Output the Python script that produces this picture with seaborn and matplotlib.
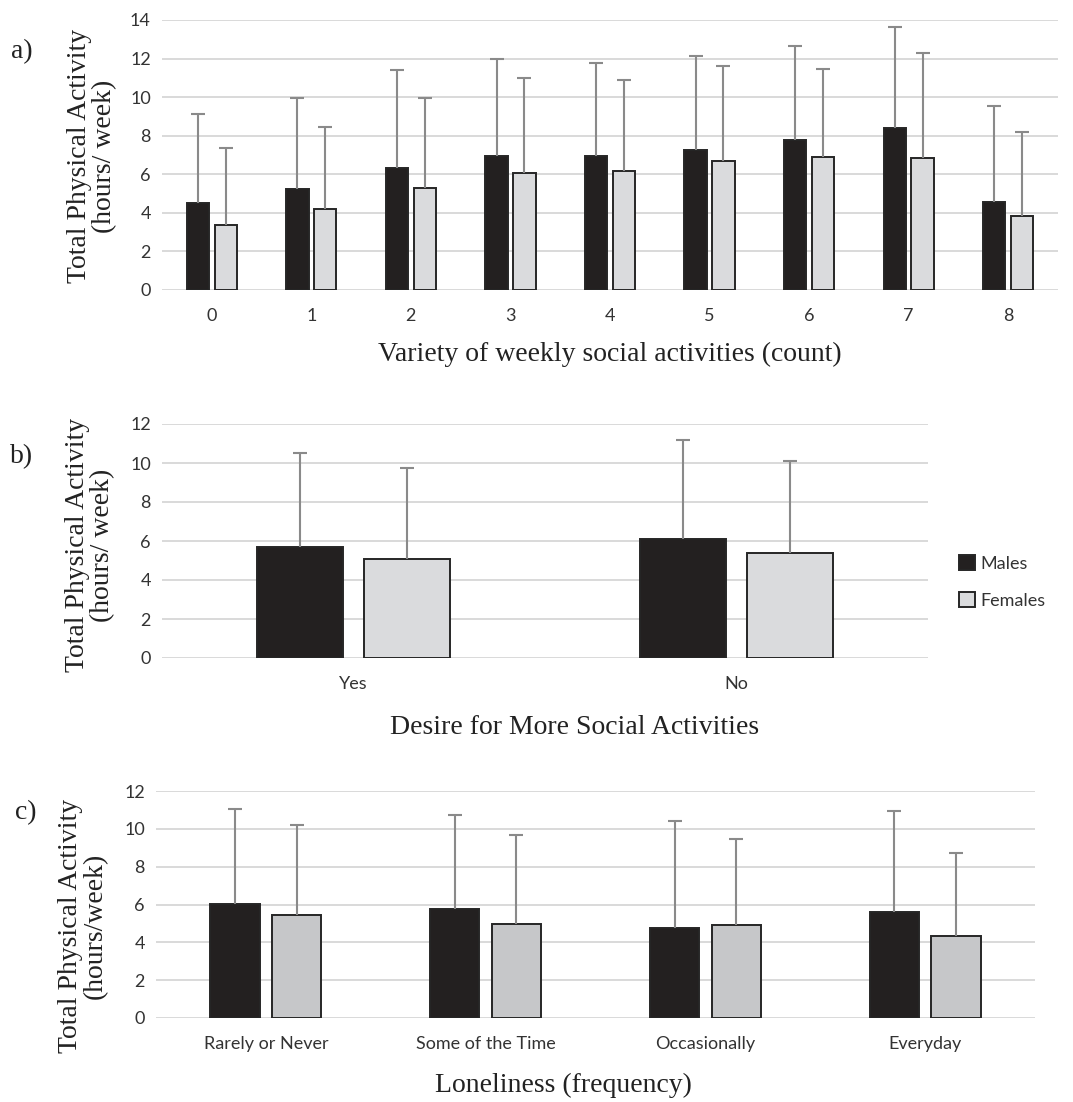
import matplotlib
matplotlib.use("Agg")
import matplotlib.pyplot as plt
import numpy as np
import pandas as pd
import seaborn as sns

# panel a: variety of weekly social activities
a_cats = ['0', '1', '2', '3', '4', '5', '6', '7', '8']
a_male = [4.52, 5.25, 6.32, 6.93, 6.96, 7.27, 7.77, 8.39, 4.54]
a_male_sd = [4.61, 4.70, 5.08, 5.04, 4.82, 4.87, 4.89, 5.25, 4.98]
a_female = [3.38, 4.21, 5.30, 6.08, 6.17, 6.68, 6.91, 6.84, 3.85]
a_female_sd = [3.98, 4.25, 4.68, 4.89, 4.71, 4.93, 4.56, 5.44, 4.34]

# panel b: desire for more social activities
b_cats = ['Yes', 'No']
b_male = [5.70, 6.11]
b_male_sd = [4.83, 5.07]
b_female = [5.07, 5.36]
b_female_sd = [4.67, 4.76]

# panel c: loneliness
c_cats = ['Rarely or Never', 'Some of the Time', 'Occasionally', 'Everyday']
c_male = [6.03, 5.76, 4.78, 5.62]
c_male_sd = [5.02, 4.99, 5.64, 5.34]
c_female = [5.43, 4.99, 4.92, 4.34]
c_female_sd = [4.78, 4.67, 4.55, 4.39]

sexes = ['Males', 'Females']

sns.set_theme(style='white')
plt.rcParams['font.family'] = ['Lato', 'DejaVu Sans']

W, H = 1073, 1102
fig = plt.figure(figsize=(W / 100, H / 100), dpi=100)


def px_axes(left, right, top, bottom):
    return fig.add_axes([left / W, 1 - bottom / H, (right - left) / W, (bottom - top) / H])


def to_long(cats, male, female):
    return pd.DataFrame({
        'cat': cats * 2,
        'mean': male + female,
        'sex': ['Males'] * len(cats) + ['Females'] * len(cats),
    })


def draw_panel(ax, cats, male, male_sd, female, female_sd, female_color, ymax):
    df = to_long(cats, male, female)
    sns.barplot(data=df, x='cat', y='mean', hue='sex', hue_order=sexes,
                palette={'Males': '#231f20', 'Females': female_color},
                width=0.56, gap=0.2, errorbar=None, edgecolor='#262626',
                linewidth=1.4, legend=False, ax=ax)
    for cont, sd in zip(ax.containers, [male_sd, female_sd]):
        xs = [b.get_x() + b.get_width() / 2 for b in cont]
        ys = [b.get_height() for b in cont]
        eb = ax.errorbar(xs, ys, yerr=[np.zeros(len(sd)), sd], fmt='none',
                         ecolor='#8a8a8a', elinewidth=1.5, capsize=5, capthick=1.5, zorder=1)
        # only the upper cap, like the original
        eb[1][0].remove()
    ax.set_xlim(-0.5, len(cats) - 0.5)
    ax.set_ylim(0, ymax)
    ax.set_yticks(np.arange(0, ymax + 1, 2))
    ax.set_xlabel('')
    ax.set_ylabel('')
    ax.grid(axis='y', color='#d9d9d9', linewidth=1.4)
    ax.set_axisbelow(True)
    for s in ax.spines.values():
        s.set_visible(False)
    ax.tick_params(length=0, labelsize=13, colors='#333333', pad=8)
    ax.tick_params(axis='x', pad=13)


serif = 'Liberation Serif'
ylab = 'Total Physical Activity\n(hours/ week)'

ax_a = px_axes(162, 1058, 20, 290)
draw_panel(ax_a, a_cats, a_male, a_male_sd, a_female, a_female_sd, '#dadbdd', 14)

ax_b = px_axes(162, 928, 424, 658)
draw_panel(ax_b, b_cats, b_male, b_male_sd, b_female, b_female_sd, '#dadbdd', 12)

ax_c = px_axes(156, 1035, 791, 1018)
draw_panel(ax_c, c_cats, c_male, c_male_sd, c_female, c_female_sd, '#c6c7c9', 12)

# y labels and panel letters
for (x, y, txt, letter, lx, ly) in [
        (117, 156, ylab, 'a)', 22, 52),
        (115, 545, ylab, 'b)', 22, 457),
        (108, 926, 'Total Physical Activity\n(hours/week)', 'c)', 26, 813)]:
    fig.text(x / W, 1 - y / H, txt, rotation=90, ha='right', va='center',
             family=serif, fontsize=20, linespacing=1.0, color='#222222',
             multialignment='center')
    fig.text(lx / W, 1 - ly / H, letter, ha='center', va='center',
             family=serif, fontsize=20, color='#222222')

# x labels
fig.text(610 / W, 1 - 354 / H, 'Variety of weekly social activities (count)',
         ha='center', va='center', family=serif, fontsize=20, color='#222222')
fig.text(575 / W, 1 - 727 / H, 'Desire for More Social Activities',
         ha='center', va='center', family=serif, fontsize=20, color='#222222')
fig.text(563 / W, 1 - 1085 / H, 'Loneliness (frequency)',
         ha='center', va='center', family=serif, fontsize=20, color='#222222')

ax_b.legend(handles=[ax_b.containers[0][0], ax_b.containers[1][0]], labels=sexes,
            loc='center left', bbox_to_anchor=(950 / W, 1 - 582 / H),
            bbox_transform=fig.transFigure, frameon=False, fontsize=13,
            handlelength=0.9, handleheight=0.9, handletextpad=0.3,
            labelspacing=1.1, borderpad=0, labelcolor='#333333')

fig.savefig('out.png', dpi=100)
